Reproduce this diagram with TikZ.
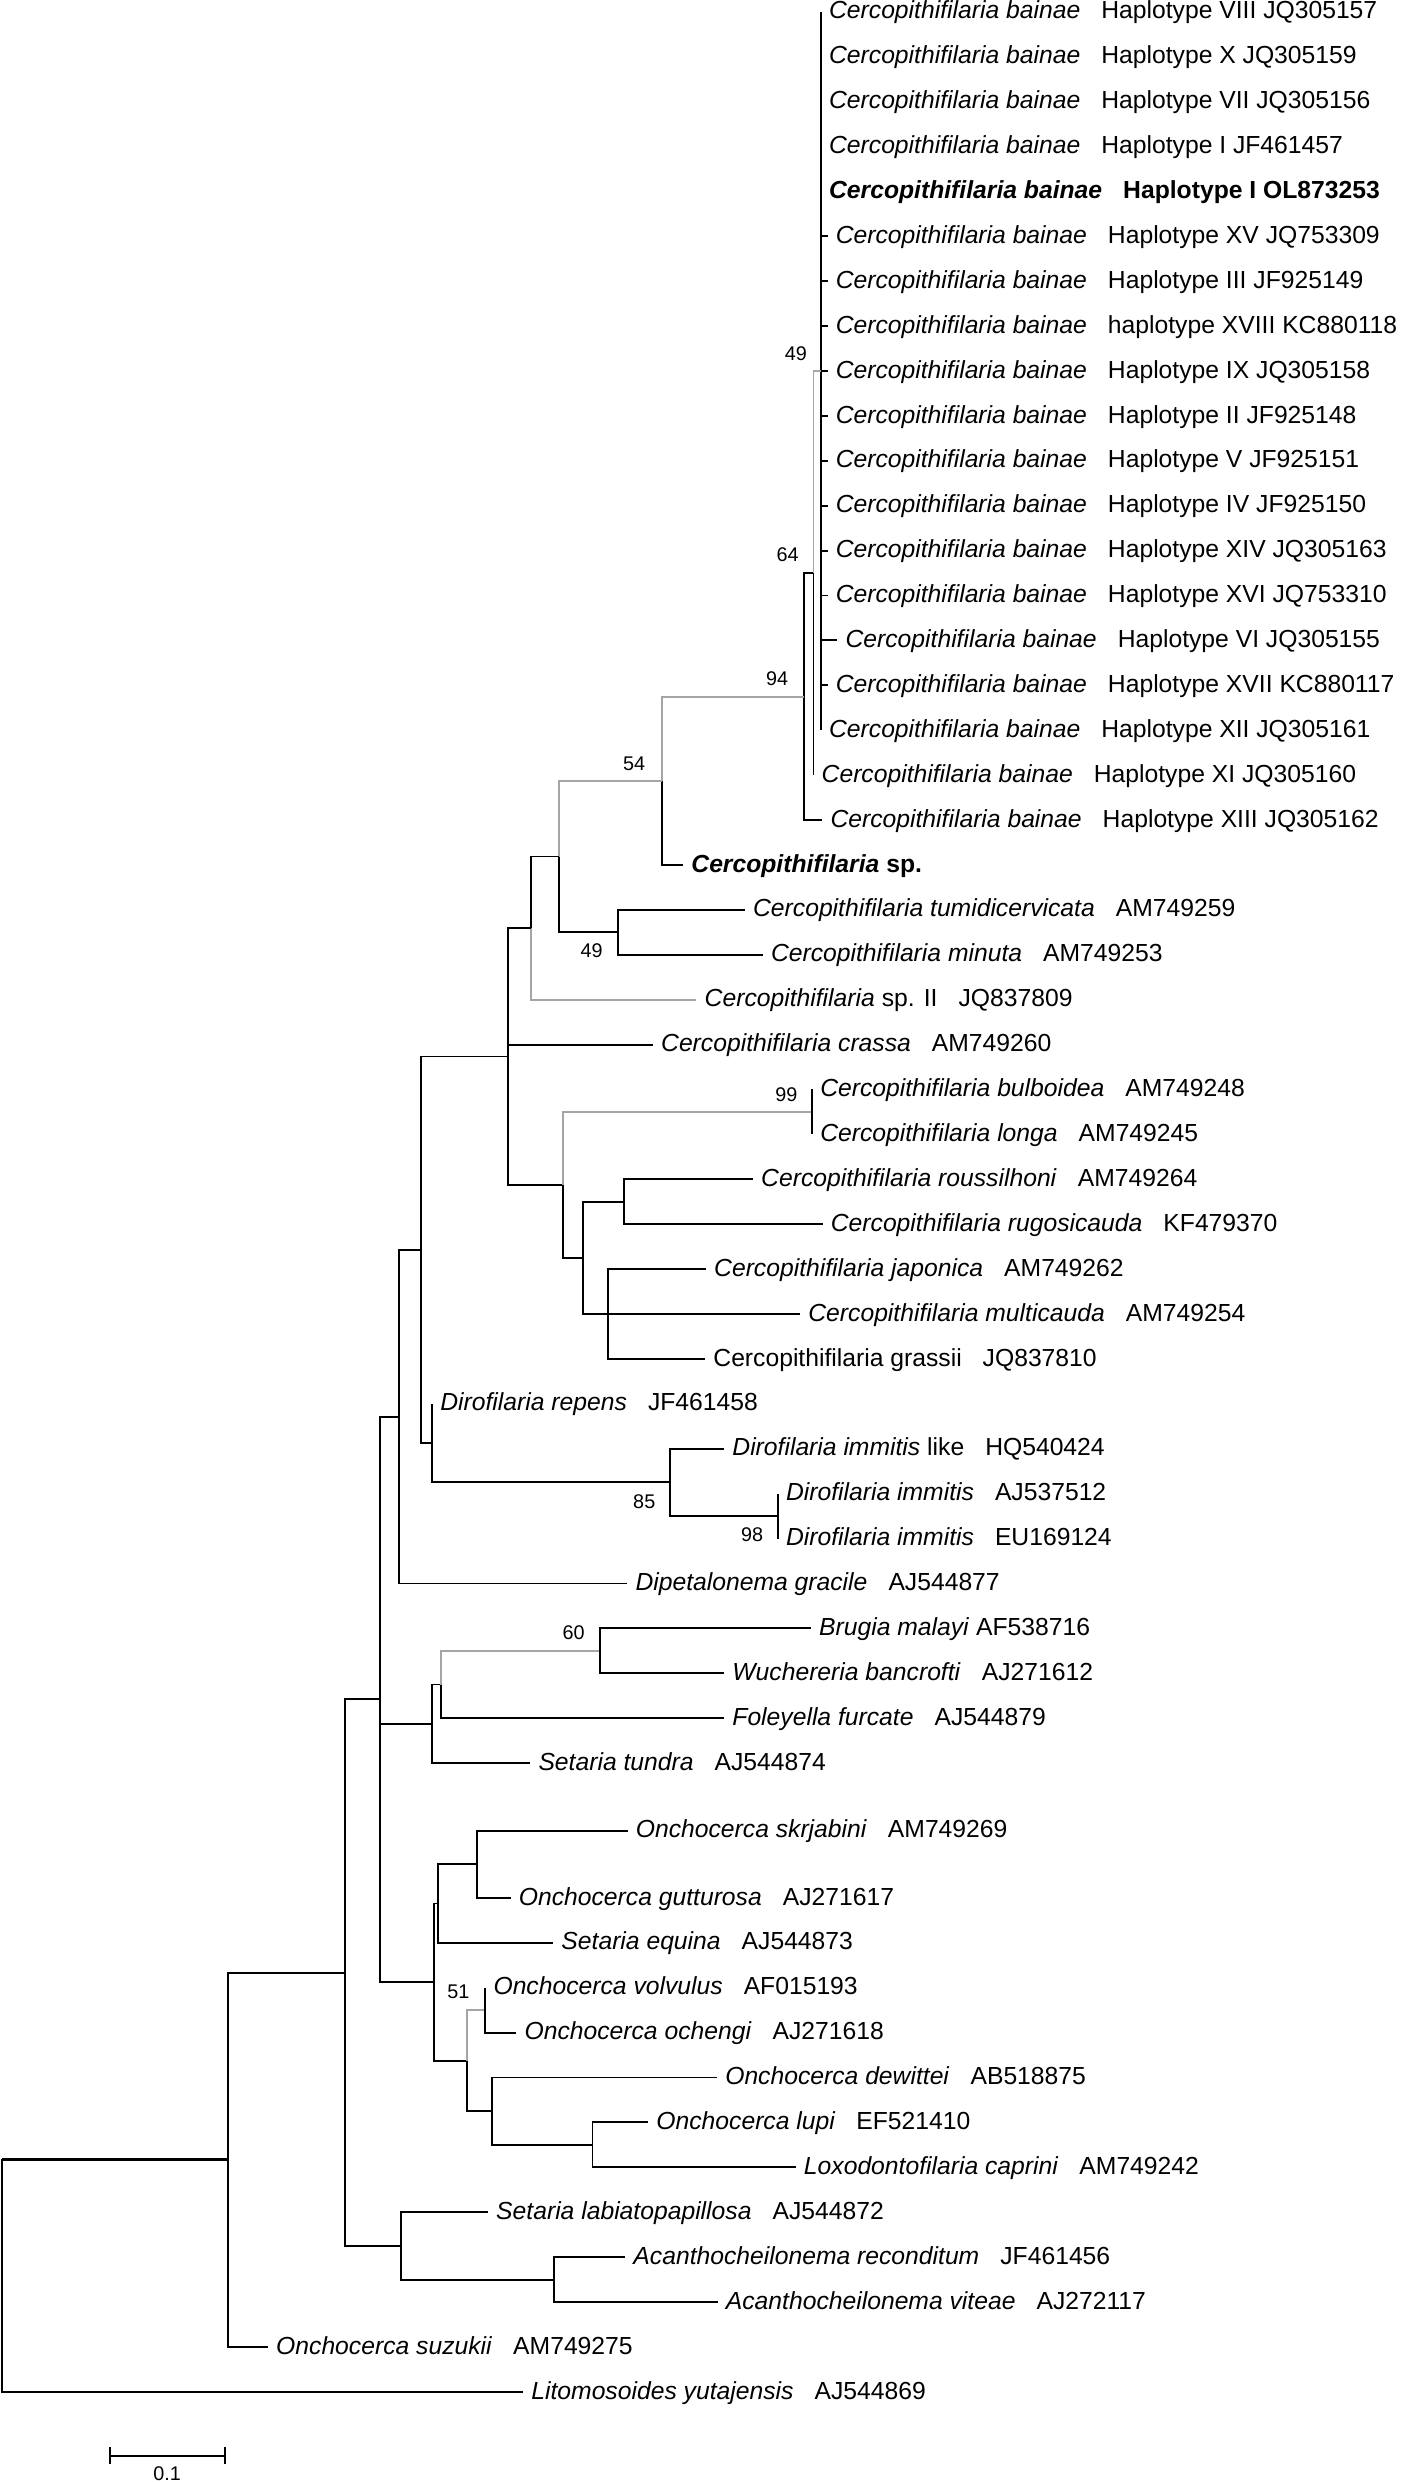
\documentclass[tikz,border=0pt]{standalone}
\usepackage{fontspec}
\setmainfont{Liberation Sans}
\usepackage{xcolor}
\definecolor{lowsup}{RGB}{165,165,165}
\newcommand{\taxon}[2]{\textit{#1}\hspace{0.85em}#2}

\begin{document}
\begin{tikzpicture}[x=1pt,y=-1pt,
  br/.style={line width=1.2pt,black},
  gbr/.style={line width=1.2pt,lowsup},
  leaf/.style={anchor=base west,inner sep=0pt,xshift=5pt,yshift=-4.5pt,
    font=\fontsize{15.6}{18}\selectfont},
  boot/.style={inner sep=0pt,font=\fontsize{12.5}{14}\selectfont}]
  \useasboundingbox (0,0) rectangle (886,1568);
  % tips of the branches
  \coordinate (t1) at (518.6,7.40);\coordinate (t2) at (518.6,35.77);
  \coordinate (t3) at (518.6,64.14);\coordinate (t4) at (518.6,92.51);
  \coordinate (t5) at (518.6,120.88);\coordinate (t6) at (522.8,149.25);
  \coordinate (t7) at (522.8,177.62);\coordinate (t8) at (522.8,205.99);
  \coordinate (t9) at (522.8,234.36);\coordinate (t10) at (522.8,262.73);
  \coordinate (t11) at (522.8,291.10);\coordinate (t12) at (522.8,319.47);
  \coordinate (t13) at (522.8,347.84);\coordinate (t14) at (522.8,376.21);
  \coordinate (t15) at (529.0,404.58);\coordinate (t16) at (522.8,432.95);
  \coordinate (t17) at (518.6,461.32);\coordinate (t18) at (513.9,489.69);
  \coordinate (t19) at (519.5,518.06);\coordinate (t20) at (431.6,546.43);
  \coordinate (t21) at (470.6,574.80);\coordinate (t22) at (481.9,603.17);
  \coordinate (t23) at (440.0,631.54);\coordinate (t24) at (412.5,659.91);
  \coordinate (t25) at (513.0,688.28);\coordinate (t26) at (513.0,716.65);
  \coordinate (t27) at (475.7,745.02);\coordinate (t28) at (519.7,773.39);
  \coordinate (t29) at (446.0,801.76);\coordinate (t30) at (505.5,830.13);
  \coordinate (t31) at (445.5,858.50);\coordinate (t32) at (273.0,886.87);
  \coordinate (t33) at (457.5,915.24);\coordinate (t34) at (491.4,943.61);
  \coordinate (t35) at (491.4,971.98);\coordinate (t36) at (396.3,1000.35);
  \coordinate (t37) at (512.3,1028.72);\coordinate (t38) at (457.5,1057.09);
  \coordinate (t39) at (457.5,1085.46);\coordinate (t40) at (335.0,1113.83);
  \coordinate (t41) at (396.5,1156.50);\coordinate (t42) at (322.6,1198.98);
  \coordinate (t43) at (349.5,1227.35);\coordinate (t44) at (306.6,1255.72);
  \coordinate (t45) at (326.2,1284.09);\coordinate (t46) at (453.0,1312.46);
  \coordinate (t47) at (409.5,1340.83);\coordinate (t48) at (502.7,1369.20);
  \coordinate (t49) at (308.3,1397.57);\coordinate (t50) at (395.0,1425.94);
  \coordinate (t51) at (453.4,1454.31);\coordinate (t52) at (169.3,1482.68);
  \coordinate (t53) at (330.5,1511.05);
  % inner nodes
  \coordinate (bain) at (518.6,234.36);\coordinate (n64) at (513.9,362.03);
  \coordinate (n94) at (508.0,440.05);\coordinate (n54) at (418.0,493.24);
  \coordinate (n49) at (390.2,588.99);\coordinate (csp) at (353.3,541.11);
  \coordinate (csp2) at (335.7,586.33);\coordinate (cerc) at (321.0,667.45);
  \coordinate (n99) at (513.0,702.47);\coordinate (rous) at (394.2,759.20);
  \coordinate (japo) at (384.0,830.13);\coordinate (rugo) at (368.3,794.67);
  \coordinate (bulb) at (355.8,748.57);\coordinate (n98) at (491.4,957.80);
  \coordinate (n85) at (423.0,936.52);\coordinate (diro) at (273.0,911.70);
  \coordinate (cedi) at (265.8,789.58);\coordinate (dipe) at (251.8,894.97);
  \coordinate (n60) at (379.2,1042.90);\coordinate (fole) at (278.6,1064.18);
  \coordinate (seta) at (273.0,1089.00);\coordinate (skrj) at (301.4,1177.74);
  \coordinate (equi) at (276.7,1202.55);\coordinate (n51) at (306.6,1269.90);
  \coordinate (lupi) at (374.3,1355.00);\coordinate (dewi) at (311.1,1333.70);
  \coordinate (ovol) at (295.0,1301.80);\coordinate (onch) at (274.0,1252.20);
  \coordinate (fila) at (239.9,1073.60);\coordinate (acan) at (349.9,1440.10);
  \coordinate (labi) at (253.1,1418.80);\coordinate (mid) at (218.0,1246.20);
  \coordinate (suzu) at (143.9,1364.40);\coordinate (root) at (1.2,1437.70);
  % labels
  \node[leaf] (l1) at (t1) {\taxon{Cercopithifilaria bainae}{Haplotype VIII JQ305157}};
  \node[leaf] (l2) at (t2) {\taxon{Cercopithifilaria bainae}{Haplotype X JQ305159}};
  \node[leaf] (l3) at (t3) {\taxon{Cercopithifilaria bainae}{Haplotype VII JQ305156}};
  \node[leaf] (l4) at (t4) {\taxon{Cercopithifilaria bainae}{Haplotype I JF461457}};
  \node[leaf] (l5) at (t5) {\bfseries\taxon{Cercopithifilaria bainae}{Haplotype I OL873253}};
  \node[leaf] (l6) at (t6) {\taxon{Cercopithifilaria bainae}{Haplotype XV JQ753309}};
  \node[leaf] (l7) at (t7) {\taxon{Cercopithifilaria bainae}{Haplotype III JF925149}};
  \node[leaf] (l8) at (t8) {\taxon{Cercopithifilaria bainae}{haplotype XVIII KC880118}};
  \node[leaf] (l9) at (t9) {\taxon{Cercopithifilaria bainae}{Haplotype IX JQ305158}};
  \node[leaf] (l10) at (t10) {\taxon{Cercopithifilaria bainae}{Haplotype II JF925148}};
  \node[leaf] (l11) at (t11) {\taxon{Cercopithifilaria bainae}{Haplotype V JF925151}};
  \node[leaf] (l12) at (t12) {\taxon{Cercopithifilaria bainae}{Haplotype IV JF925150}};
  \node[leaf] (l13) at (t13) {\taxon{Cercopithifilaria bainae}{Haplotype XIV JQ305163}};
  \node[leaf] (l14) at (t14) {\taxon{Cercopithifilaria bainae}{Haplotype XVI JQ753310}};
  \node[leaf] (l15) at (t15) {\taxon{Cercopithifilaria bainae}{Haplotype VI JQ305155}};
  \node[leaf] (l16) at (t16) {\taxon{Cercopithifilaria bainae}{Haplotype XVII KC880117}};
  \node[leaf] (l17) at (t17) {\taxon{Cercopithifilaria bainae}{Haplotype XII JQ305161}};
  \node[leaf] (l18) at (t18) {\taxon{Cercopithifilaria bainae}{Haplotype XI JQ305160}};
  \node[leaf] (l19) at (t19) {\taxon{Cercopithifilaria bainae}{Haplotype XIII JQ305162}};
  \node[leaf] (l20) at (t20) {\bfseries\textit{Cercopithifilaria} sp.};
  \node[leaf] (l21) at (t21) {\taxon{Cercopithifilaria tumidicervicata}{AM749259}};
  \node[leaf] (l22) at (t22) {\taxon{Cercopithifilaria minuta}{AM749253}};
  \node[leaf] (l23) at (t23) {\textit{Cercopithifilaria} sp. II\hspace{0.85em}JQ837809};
  \node[leaf] (l24) at (t24) {\taxon{Cercopithifilaria crassa}{AM749260}};
  \node[leaf] (l25) at (t25) {\taxon{Cercopithifilaria bulboidea}{AM749248}};
  \node[leaf] (l26) at (t26) {\taxon{Cercopithifilaria longa}{AM749245}};
  \node[leaf] (l27) at (t27) {\taxon{Cercopithifilaria roussilhoni}{AM749264}};
  \node[leaf] (l28) at (t28) {\taxon{Cercopithifilaria rugosicauda}{KF479370}};
  \node[leaf] (l29) at (t29) {\taxon{Cercopithifilaria japonica}{AM749262}};
  \node[leaf] (l30) at (t30) {\taxon{Cercopithifilaria multicauda}{AM749254}};
  \node[leaf] (l31) at (t31) {Cercopithifilaria grassii\hspace{0.85em}JQ837810};
  \node[leaf] (l32) at (t32) {\taxon{Dirofilaria repens}{JF461458}};
  \node[leaf] (l33) at (t33) {\textit{Dirofilaria immitis} like\hspace{0.85em}HQ540424};
  \node[leaf] (l34) at (t34) {\taxon{Dirofilaria immitis}{AJ537512}};
  \node[leaf] (l35) at (t35) {\taxon{Dirofilaria immitis}{EU169124}};
  \node[leaf] (l36) at (t36) {\taxon{Dipetalonema gracile}{AJ544877}};
  \node[leaf] (l37) at (t37) {\textit{Brugia malayi} AF538716};
  \node[leaf] (l38) at (t38) {\taxon{Wuchereria bancrofti}{AJ271612}};
  \node[leaf] (l39) at (t39) {\taxon{Foleyella furcate}{AJ544879}};
  \node[leaf] (l40) at (t40) {\taxon{Setaria tundra}{AJ544874}};
  \node[leaf] (l41) at (t41) {\taxon{Onchocerca skrjabini}{AM749269}};
  \node[leaf] (l42) at (t42) {\taxon{Onchocerca gutturosa}{AJ271617}};
  \node[leaf] (l43) at (t43) {\taxon{Setaria equina}{AJ544873}};
  \node[leaf] (l44) at (t44) {\taxon{Onchocerca volvulus}{AF015193}};
  \node[leaf] (l45) at (t45) {\taxon{Onchocerca ochengi}{AJ271618}};
  \node[leaf] (l46) at (t46) {\taxon{Onchocerca dewittei}{AB518875}};
  \node[leaf] (l47) at (t47) {\taxon{Onchocerca lupi}{EF521410}};
  \node[leaf] (l48) at (t48) {\taxon{Loxodontofilaria caprini}{AM749242}};
  \node[leaf] (l49) at (t49) {\taxon{Setaria labiatopapillosa}{AJ544872}};
  \node[leaf] (l50) at (t50) {\taxon{Acanthocheilonema reconditum}{JF461456}};
  \node[leaf] (l51) at (t51) {\taxon{Acanthocheilonema viteae}{AJ272117}};
  \node[leaf] (l52) at (t52) {\taxon{Onchocerca suzukii}{AM749275}};
  \node[leaf] (l53) at (t53) {\taxon{Litomosoides yutajensis}{AJ544869}};
  % branches, C. bainae haplotypes
  \draw[br] (bain) |- (t1);\draw[br] (bain) |- (t2);\draw[br] (bain) |- (t3);
  \draw[br] (bain) |- (t4);\draw[br] (bain) |- (t5);\draw[br] (bain) |- (t6);
  \draw[br] (bain) |- (t7);\draw[br] (bain) |- (t8);\draw[br] (bain) |- (t9);
  \draw[br] (bain) |- (t10);\draw[br] (bain) |- (t11);\draw[br] (bain) |- (t12);
  \draw[br] (bain) |- (t13);\draw[br] (bain) |- (t14);\draw[br] (bain) |- (t15);
  \draw[br] (bain) |- (t16);\draw[br] (bain) |- (t17);
  \draw[gbr] (n64) |- (bain);\draw[br] (n64) |- (t18);
  \draw[br] (n94) |- (n64);\draw[br] (n94) |- (t19);
  \draw[gbr] (n54) |- (n94);\draw[br] (n54) |- (t20);
  \draw[gbr] (csp) |- (n54);\draw[br] (csp) |- (n49);
  \draw[br] (n49) |- (t21);\draw[br] (n49) |- (t22);
  \draw[br] (csp2) |- (csp);\draw[gbr] (csp2) |- (t23);
  \draw[br] (cerc) |- (csp2);\draw[br] (cerc) |- (t24);\draw[br] (cerc) |- (bulb);
  \draw[gbr] (bulb) |- (n99);\draw[br] (bulb) |- (rugo);
  \draw[br] (n99) |- (t25);\draw[br] (n99) |- (t26);
  \draw[br] (rugo) |- (rous);\draw[br] (rugo) |- (japo);
  \draw[br] (rous) |- (t27);\draw[br] (rous) |- (t28);
  \draw[br] (japo) |- (t29);\draw[br] (japo) |- (t30);\draw[br] (japo) |- (t31);
  % Dirofilaria and the rest
  \draw[br] (cedi) |- (cerc);\draw[br] (cedi) |- (diro);
  \draw[br] (diro) |- (t32);\draw[br] (diro) |- (n85);
  \draw[br] (n85) |- (t33);\draw[br] (n85) |- (n98);
  \draw[br] (n98) |- (t34);\draw[br] (n98) |- (t35);
  \draw[br] (dipe) |- (cedi);\draw[br] (dipe) |- (t36);
  \draw[br] (fila) |- (dipe);\draw[br] (fila) |- (seta);\draw[br] (fila) |- (onch);
  \draw[br] (seta) |- (fole);\draw[br] (seta) |- (t40);
  \draw[gbr] (fole) |- (n60);\draw[br] (fole) |- (t39);
  \draw[br] (n60) |- (t37);\draw[br] (n60) |- (t38);
  \draw[br] (onch) |- (equi);\draw[br] (onch) |- (ovol);
  \draw[br] (equi) |- (skrj);\draw[br] (equi) |- (t43);
  \draw[br] (skrj) |- (t41);\draw[br] (skrj) |- (t42);
  \draw[gbr] (ovol) |- (n51);\draw[br] (ovol) |- (dewi);
  \draw[br] (n51) |- (t44);\draw[br] (n51) |- (t45);
  \draw[br] (dewi) |- (t46);\draw[br] (dewi) |- (lupi);
  \draw[br] (lupi) |- (t47);\draw[br] (lupi) |- (t48);
  \draw[br] (mid) |- (fila);\draw[br] (mid) |- (labi);
  \draw[br] (labi) |- (t49);\draw[br] (labi) |- (acan);
  \draw[br] (acan) |- (t50);\draw[br] (acan) |- (t51);
  \draw[br] (suzu) |- (mid);\draw[br] (suzu) |- (t52);
  \draw[br] (root) |- (suzu);\draw[br] (root) |- (t53);
  \draw[line width=1.9pt] (root |- suzu) -- (suzu);
  % bootstrap values
  \node[boot] (b49a) at (502.8,223.3) {49};
  \node[boot] (b64) at (497.6,350.7) {64};
  \node[boot] (b94) at (491.0,428.7) {94};
  \node[boot] (b54) at (400.6,482.3) {54};
  \node[boot] (b49b) at (373.8,600.4) {49};
  \node[boot] (b99) at (496.8,691.5) {99};
  \node[boot] (b85) at (407.0,948.4) {85};
  \node[boot] (b98) at (475.2,969.4) {98};
  \node[boot] (b60) at (362.4,1031.5) {60};
  \node[boot] (b51) at (289.6,1258.6) {51};
  % scale bar
  \coordinate (s0) at (69.3,1551.4);\coordinate (s1) at (141.9,1551.4);
  \draw[br] (s0) -- (s1);
  \draw[br] ([yshift=5.3pt]s0) -- ([yshift=-5.3pt]s0);
  \draw[br] ([yshift=5.3pt]s1) -- ([yshift=-5.3pt]s1);
  \node[boot] (sc) at (105.6,1563) {0.1};
\end{tikzpicture}
\end{document}
